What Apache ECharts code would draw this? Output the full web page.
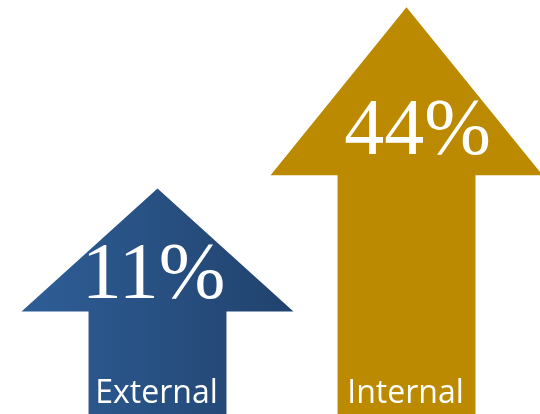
<!DOCTYPE html>
<html>
<head>
<meta charset="utf-8">
<script src="https://cdn.jsdelivr.net/npm/echarts@6/dist/echarts.min.js"></script>
<style>html,body{margin:0;padding:0;background:#fff;}#c{width:540px;height:414px;}</style>
</head>
<body>
<div id="c"></div>
<script>
const categories = ['External', 'Internal'];
const values = [11, 44];
const valueLabels = ['11%', '44%'];

const chart = echarts.init(document.getElementById('c'), null, {renderer: 'canvas'});
const headHeights = [123, 168];
const numberOffsets = [35, 42];
const fills = [
  new echarts.graphic.LinearGradient(0, 0, 1, 0, [{offset: 0, color: '#2e5e97'}, {offset: 1, color: '#21426d'}]),
  '#bb8a00'
];

chart.setOption({
  animation: false,
  grid: {left: 33, right: 9, top: 0, bottom: 0},
  xAxis: {type: 'category', data: categories, show: false},
  yAxis: {type: 'value', min: -30, max: 45.3, show: false},
  series: [{
    type: 'custom',
    data: categories.map((c, i) => [i, values[i]]),
    renderItem: function (params, api) {
      const i = params.dataIndex;
      const cs = params.coordSys;
      const tip = api.coord([api.value(0), api.value(1)]);
      const x = tip[0];
      const tipY = tip[1];
      const bottom = cs.y + cs.height;
      const band = api.size([1, 0])[0];
      const headHalf = band * 0.546;
      const shaftHalf = band * 0.277;
      const baseY = tipY + headHeights[i];
      const pts = [
        [x, tipY], [x + headHalf, baseY], [x + shaftHalf, baseY],
        [x + shaftHalf, bottom], [x - shaftHalf, bottom], [x - shaftHalf, baseY],
        [x - headHalf, baseY]
      ];
      return {
        type: 'group',
        children: [
          {type: 'polygon', shape: {points: pts}, style: {fill: fills[i]}},
          {type: 'text', style: {
            text: valueLabels[i], x: x + (i === 0 ? -4 : 11), y: baseY - numberOffsets[i],
            align: 'center', verticalAlign: 'middle',
            font: '80px "Liberation Serif", serif', fill: '#ffffff'
          }},
          {type: 'text', style: {
            text: categories[i], x: x - 1, y: bottom - 20,
            align: 'center', verticalAlign: 'middle',
            font: '32px "Open Sans", "Noto Sans", sans-serif', fill: '#ffffff'
          }}
        ]
      };
    }
  }]
});
</script>
</body>
</html>
